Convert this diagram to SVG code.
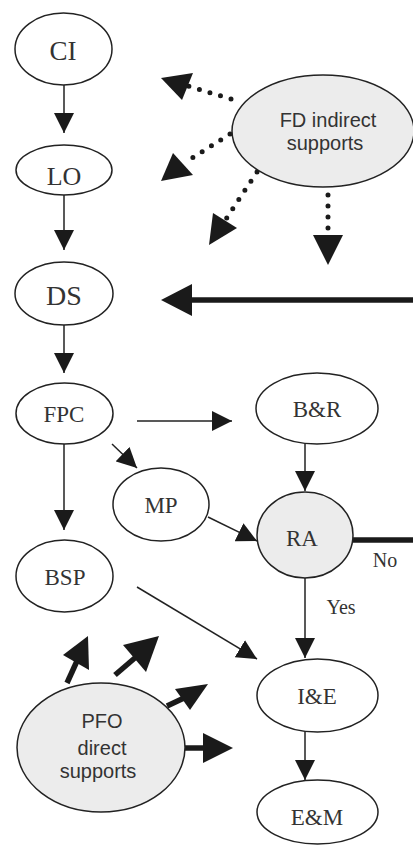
<svg xmlns="http://www.w3.org/2000/svg" width="413" height="845" viewBox="0 0 413 845">
<style>
.n{fill:#fff;stroke:#222;stroke-width:1.5}
.g{fill:#ececec;stroke:#222;stroke-width:1.5}
.t{font-family:"Liberation Serif",serif;fill:#333;text-anchor:middle}
.s{font-family:"Liberation Sans",Arial,sans-serif;font-size:20px;fill:#333;text-anchor:middle}
.l{stroke:#222;stroke-width:1.5;fill:none}
.k{stroke:#1a1a1a;stroke-width:5.5;fill:none}
.d{stroke:#1a1a1a;stroke-width:5;stroke-linecap:round;stroke-dasharray:0 11;fill:none}
.h{fill:#1a1a1a}
</style>
<defs>
<marker id="a" markerUnits="userSpaceOnUse" markerWidth="20" markerHeight="20" viewBox="0 0 20 20" refX="20" refY="10" orient="auto">
<path d="M0,0 L20,10 L0,20 Z" fill="#1a1a1a"/>
</marker>
</defs>
<rect width="413" height="845" fill="#fff"/>
<g id="connectors">
<line class="l" x1="64" y1="85" x2="64" y2="133" marker-end="url(#a)"/>
<line class="l" x1="64" y1="195" x2="64" y2="250" marker-end="url(#a)"/>
<line class="l" x1="64" y1="325" x2="64" y2="373" marker-end="url(#a)"/>
<line class="l" x1="64" y1="444" x2="64" y2="530" marker-end="url(#a)"/>
<line class="l" x1="137" y1="421" x2="232" y2="421" marker-end="url(#a)"/>
<line class="l" x1="112" y1="444" x2="137" y2="468" marker-end="url(#a)"/>
<line class="l" x1="208" y1="517" x2="257" y2="541" marker-end="url(#a)"/>
<line class="l" x1="305" y1="444" x2="305" y2="491" marker-end="url(#a)"/>
<line class="l" x1="137" y1="587" x2="257" y2="659" marker-end="url(#a)"/>
<line class="l" x1="305" y1="578" x2="305" y2="658" marker-end="url(#a)"/>
<line class="l" x1="305" y1="732" x2="305" y2="780" marker-end="url(#a)"/>
<line class="k" x1="413" y1="300" x2="190" y2="300"/>
<polygon class="h" points="161,300 192,284 192,316"/>
<line class="k" x1="352" y1="540" x2="413" y2="540"/>
<line class="d" x1="231" y1="99" x2="188" y2="86"/>
<polygon class="h" points="161,78 193,73 182,100"/>
<line class="d" x1="230" y1="134" x2="186" y2="162"/>
<polygon class="h" points="161,181 173,153 193,175"/>
<line class="d" x1="257" y1="172" x2="226" y2="219"/>
<polygon class="h" points="209,245 213,213 237,228"/>
<line class="d" x1="328" y1="195" x2="328" y2="232"/>
<polygon class="h" points="328,265 313,235 343,235"/>
<line class="k" x1="67" y1="683" x2="77" y2="661"/>
<polygon class="h" points="88,636 63,655 89,670"/>
<line class="k" x1="115" y1="675" x2="136" y2="657"/>
<polygon class="h" points="159,636 123,645 146,672"/>
<line class="k" x1="167" y1="706" x2="184" y2="698"/>
<polygon class="h" points="208,684 175,689 190,710"/>
<line class="k" x1="185" y1="748" x2="205" y2="748"/>
<polygon class="h" points="233,748 203,733 203,763"/>
</g>
<g id="CI"><ellipse class="n" cx="63.5" cy="49" rx="48.5" ry="36"/><text class="t" x="63" y="60" font-size="27">CI</text></g>
<g id="LO"><ellipse class="n" cx="64" cy="170" rx="48" ry="25"/><text class="t" x="64" y="185" font-size="26">LO</text></g>
<g id="DS"><ellipse class="n" cx="64" cy="293.5" rx="49" ry="31.5"/><text class="t" x="64" y="305" font-size="28">DS</text></g>
<g id="FD"><ellipse class="g" cx="323" cy="131" rx="91" ry="56"/><text class="s" x="328" y="127">FD indirect</text><text class="s" x="325" y="150">supports</text></g>
<g id="FPC"><ellipse class="n" cx="64.5" cy="413.5" rx="48.5" ry="30.5"/><text class="t" x="64" y="422" font-size="23">FPC</text></g>
<g id="BR"><ellipse class="n" cx="317" cy="408.5" rx="61" ry="35.5"/><text class="t" x="317" y="417" font-size="23">B&amp;R</text></g>
<g id="MP"><ellipse class="n" cx="161" cy="504.5" rx="48" ry="36.5"/><text class="t" x="161" y="513" font-size="23">MP</text></g>
<g id="RA"><ellipse class="g" cx="305" cy="535" rx="48" ry="43"/><text class="t" x="302" y="546" font-size="23">RA</text></g>
<text class="t" x="385" y="567" font-size="20">No</text>
<g id="BSP"><ellipse class="n" cx="64.5" cy="576" rx="48.5" ry="36"/><text class="t" x="65" y="585" font-size="23">BSP</text></g>
<text class="t" x="341" y="614" font-size="20">Yes</text>
<g id="IE"><ellipse class="n" cx="317.5" cy="695.5" rx="60.5" ry="36.5"/><text class="t" x="317" y="704" font-size="23">I&amp;E</text></g>
<g id="PFO"><ellipse class="g" cx="101" cy="747.5" rx="84" ry="64.5"/><text class="s" x="102" y="728">PFO</text><text class="s" x="102" y="755">direct</text><text class="s" x="98" y="778">supports</text></g>
<g id="EM"><ellipse class="n" cx="317.5" cy="812" rx="60.5" ry="32"/><text class="t" x="317" y="825" font-size="23">E&amp;M</text></g>
</svg>
